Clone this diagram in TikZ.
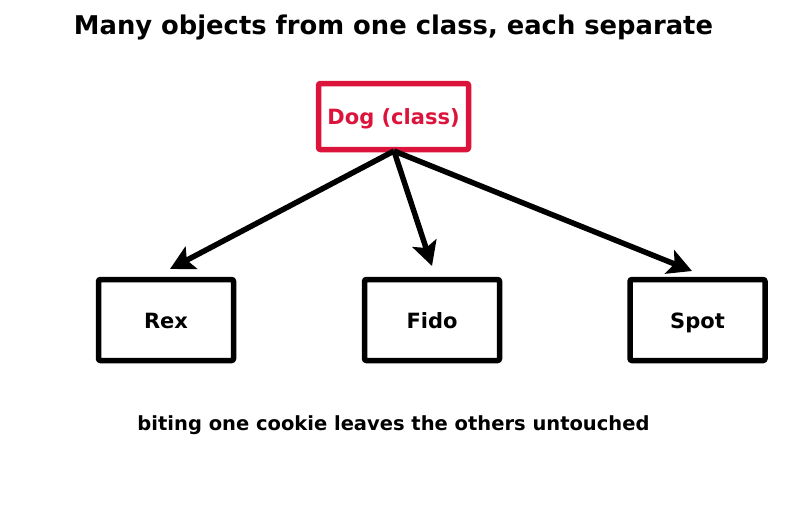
\documentclass[tikz,border=0pt]{standalone}
\usepackage{fontspec}
\setmainfont{DejaVu Sans}
\usetikzlibrary{arrows.meta}
\definecolor{crim}{RGB}{220,20,60}
\begin{document}
\begin{tikzpicture}[x=1pt,y=-1pt,
  box/.style={draw=black,line width=5.5pt,rounded corners=2pt,minimum width=135pt,minimum height=81pt,inner sep=0pt,text height=20pt,text depth=4pt,font=\fontsize{21}{25}\selectfont\bfseries},
  classbox/.style={draw=crim,text=crim,line width=5.5pt,rounded corners=2pt,minimum width=150pt,minimum height=66pt,inner sep=0pt,text height=20pt,text depth=4pt,font=\fontsize{21}{25}\selectfont\bfseries},
  conn/.style={line width=5.5pt,-{Stealth[length=24pt,width=25pt,inset=5pt]}}]
\useasboundingbox (0,0) rectangle (787,512);
\node[font=\fontsize{25.8}{30}\selectfont\bfseries] (title) at (393.5,27) {Many objects from one class, each separate};
\node[classbox] (dog) at (393.5,116.5) {Dog (class)};
\node[box] (rex) at (166,320) {Rex};
\node[box] (fido) at (432,320) {Fido};
\node[box] (spot) at (697.5,320) {Spot};
\coordinate (src) at (394,151);
\coordinate (trex) at (170,269);
\coordinate (tfido) at (432,266);
\coordinate (tspot) at (692,271);
\draw[conn] (src) -- (trex);
\draw[conn] (src) -- (tfido);
\draw[conn] (src) -- (tspot);
\node[font=\fontsize{19.5}{23}\selectfont\bfseries] (note) at (393.5,425) {biting one cookie leaves the others untouched};
\end{tikzpicture}
\end{document}
